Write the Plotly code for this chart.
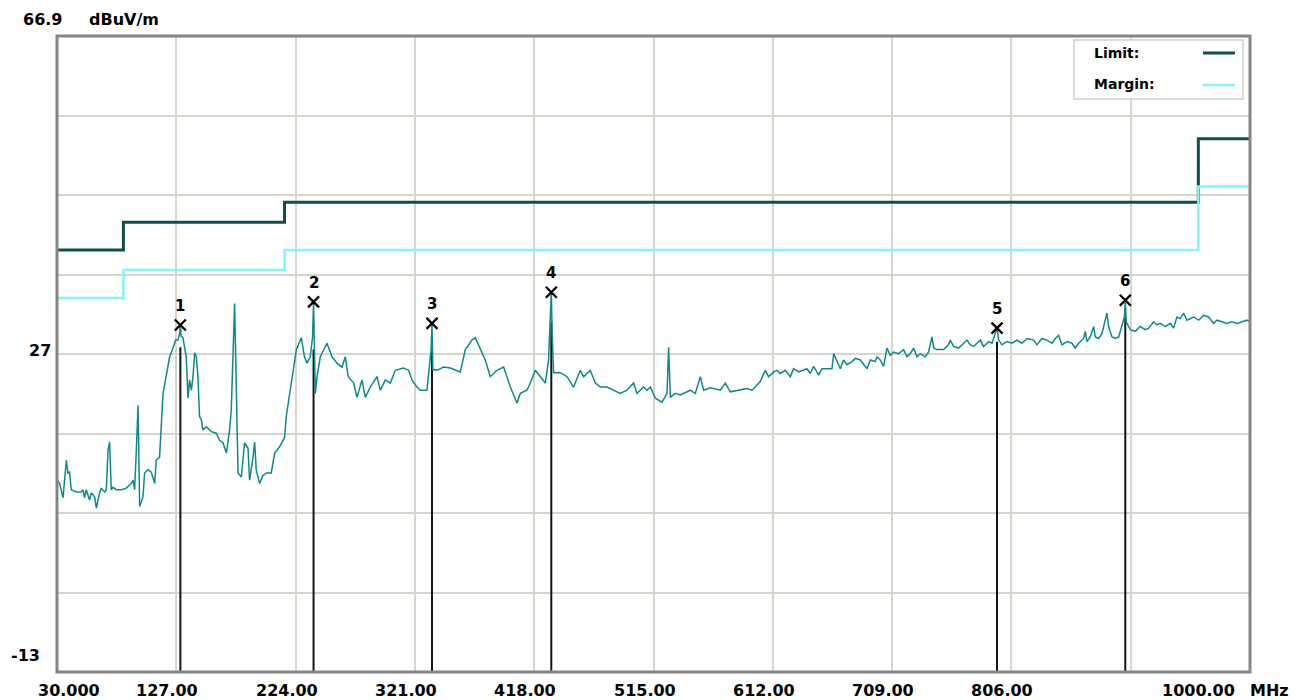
import numpy as np
import plotly.graph_objects as go

# ---- axes ----
Y_MIN, Y_MAX = -13.0, 66.9
x_ticks = [30, 127, 224, 321, 418, 515, 612, 709, 806, 903, 1000]
x_tick_labels = ["30.000", "127.00", "224.00", "321.00", "418.00", "515.00",
                 "612.00", "709.00", "806.00", "", "1000.00"]
y_label_values = [66.9, 27, -13]
y_label_texts = ["66.9", "27", "-13"]

# ---- limit / margin (step lines) ----
limit_freq = [30, 84, 215, 958, 1000]
limit_level = [40.0, 43.5, 46.0, 54.0, 54.0]
margin_freq = [30, 84, 215, 958, 1000]
margin_level = [34.0, 37.5, 40.0, 48.0, 48.0]

# ---- measured spectrum (MHz, dBuV/m) ----
trace_freq = [
    30.0, 32.1, 34.9, 37.6, 38.9, 40.2, 41.6, 45.7, 49.8, 51.1, 52.4, 53.8, 56.5, 57.9,
    60.6, 62.0, 64.6, 66.0, 68.7, 70.1, 71.5, 72.8, 74.1, 75.5, 78.2, 82.3, 86.3, 90.4,
    91.8, 93.1, 94.5, 95.9, 97.2, 99.9, 101.2, 104.0, 106.7, 109.4, 110.7, 113.4, 116.2,
    118.9, 121.6, 124.3, 126.4, 128.4, 129.7, 130.3, 130.9, 132.4, 135.1, 136.5, 137.8,
    139.2, 140.6, 141.9, 143.3, 144.6, 145.9, 147.3, 148.7, 151.4, 155.5, 159.5, 162.2,
    165.0, 167.7, 170.3, 171.7, 174.4, 175.8, 177.2, 179.9, 182.5, 185.3, 186.6, 189.4,
    190.7, 192.0, 194.7, 197.5, 200.2, 204.2, 207.0, 211.0, 215.1, 216.4, 219.1, 221.9,
    224.6, 228.6, 231.2,
    233.3, 235.9, 237.8, 238.6, 240.0, 241.4, 244.1, 249.5,
    253.6, 257.7, 261.7, 264.4, 266.8, 271.2, 273.9, 278.0, 280.7, 284.7, 290.2, 292.9,
    296.9, 301.0, 305.1, 311.8, 315.9, 318.6, 322.7, 325.4, 330.8, 334.2, 334.9, 335.6,
    339.0, 344.3, 349.8, 355.2, 357.9, 362.0, 367.4, 370.1, 374.2, 378.2, 382.3, 387.7,
    393.1, 398.6, 404.0, 406.7, 412.1, 414.8, 418.9, 422.9, 427.0, 429.7, 431.2, 431.9,
    432.6, 433.8, 439.2, 444.7, 450.0, 455.5, 458.2, 463.6, 467.7, 471.7, 477.2, 482.5,
    488.0, 493.4, 498.8, 501.6, 506.9, 509.7, 512.4, 516.5, 521.9, 526.0, 527.3, 528.7,
    532.7, 536.8, 544.9, 549.0, 553.1, 555.8, 561.2, 569.3, 573.4, 577.4,
    585.6, 591.0, 595.1, 599.1, 601.8, 605.9, 608.6, 612.7, 615.4, 618.1, 622.2, 626.2,
    628.9, 633.0, 637.1, 639.8, 642.5, 645.2, 649.3, 652.0, 656.0, 660.1, 661.5, 664.2,
    666.9, 669.6, 672.3, 676.4, 679.1, 683.1, 685.8, 688.6, 691.3, 695.3, 696.7, 699.4,
    702.1, 704.8, 707.5, 710.2, 714.3, 718.4, 721.1, 723.8, 726.5, 729.2, 731.9, 736.0,
    738.7, 741.4, 742.8, 745.5, 750.9, 754.9, 756.3, 759.0, 763.1, 767.2, 769.9, 772.6,
    775.3, 778.0, 780.7, 783.4, 787.5, 790.2, 792.9, 794.3, 795.6, 798.3, 802.4, 806.4,
    810.5, 814.6, 818.7, 824.1, 826.8, 830.8, 834.9, 839.0, 841.7, 844.4, 847.1, 851.2,
    855.2, 857.9, 860.7, 864.7, 866.1, 867.4, 870.1, 872.9, 874.2, 876.9, 879.6, 883.7,
    885.0, 887.8, 890.5, 893.2, 897.9, 898.6, 899.3, 902.7, 906.7, 910.8, 914.9, 917.6,
    921.6, 924.3, 927.1, 931.1, 935.2, 937.9, 940.6, 943.3, 946.0, 948.7, 954.2, 958.2,
    962.3, 966.3, 970.4, 973.1, 977.2, 981.3, 985.3, 989.4, 993.5, 997.5, 1000.0,
]
trace_level = [
    11.1, 10.7, 8.9, 13.6, 12.0, 12.1, 9.9, 9.6, 9.6, 9.9, 8.9, 9.9, 8.6, 9.5,
    9.0, 7.6, 9.5, 10.1, 9.6, 9.9, 14.9, 15.9, 9.9, 10.2, 9.9, 9.9, 10.1, 10.7,
    11.1, 9.9, 14.9, 20.5, 7.8, 9.0, 12.0, 12.4, 12.1, 10.7, 13.6, 14.0, 22.0,
    24.1, 26.6, 27.7, 28.7, 28.7, 29.5, 30.6, 29.2, 29.0, 26.6, 21.4, 23.7,
    22.4, 24.1, 27.1, 26.6, 24.1, 19.1, 18.7, 17.4, 17.8, 17.2, 17.0, 16.1,
    15.8, 14.5, 17.4, 19.9, 33.3, 22.4, 12.0, 11.5, 15.8, 15.1, 11.1, 14.0,
    15.9, 12.4, 10.7, 11.7, 12.0, 12.0, 14.5, 15.3, 16.5, 19.1, 22.0, 24.9,
    27.5, 29.0, 26.6,
    25.8, 26.6, 29.1, 33.5, 22.0, 24.1, 26.6, 28.3,
    26.6, 25.8, 25.3, 26.6, 24.1, 23.3, 21.5, 23.7, 21.5, 22.8, 24.1, 22.4,
    23.7, 23.3, 24.9, 25.2, 24.9, 23.7, 22.8, 22.4, 22.4, 27.5, 30.8, 25.0,
    24.9, 25.3, 25.2, 24.9, 24.7, 27.5, 28.7, 29.0, 27.5, 26.2, 24.1, 24.9,
    25.3, 22.8, 20.8, 22.0, 22.4, 23.3, 24.9, 24.1, 23.3, 26.2, 31.0, 34.7,
    29.5, 24.6, 24.6, 24.1, 22.8, 24.9, 24.1, 24.9, 23.3, 22.8, 22.8, 22.4,
    22.0, 22.4, 23.3, 22.0, 22.8, 22.4, 22.8, 21.4, 20.9, 22.0, 27.8, 21.5,
    22.0, 21.8, 22.4, 22.0, 24.1, 22.4, 22.7, 22.4, 23.3, 22.2,
    22.4, 22.6, 22.4, 23.1, 23.5, 24.9, 24.1, 24.7, 24.9, 24.5, 24.9, 24.1,
    25.1, 24.7, 24.9, 25.1, 24.5, 25.4, 24.3, 25.1, 25.1, 25.1, 27.0, 26.0,
    25.1, 26.2, 25.6, 26.0, 26.4, 26.2, 25.6, 25.1, 26.2, 26.0, 26.6, 26.2,
    25.4, 27.7, 26.8, 27.2, 27.0, 27.5, 26.6, 27.0, 27.7, 26.6, 27.0, 26.6,
    27.2, 29.1, 27.7, 27.5, 27.5, 28.1, 28.7, 27.9, 27.7, 28.3, 28.7, 28.1,
    27.9, 28.3, 28.7, 27.9, 28.5, 28.3, 29.5, 30.2, 28.7, 28.1, 28.5, 28.3,
    28.7, 28.3, 28.9, 28.7, 28.1, 28.9, 28.7, 28.3, 28.9, 29.3, 28.1, 28.5,
    28.3, 27.7, 28.3, 28.9, 29.8, 28.5, 29.1, 30.4, 29.1, 28.9, 29.5, 32.1,
    30.4, 29.1, 28.9, 29.1, 31.6, 33.7, 31.0, 30.0, 29.8, 30.4, 30.0, 30.2,
    31.0, 30.6, 30.8, 30.4, 30.8, 30.2, 31.6, 31.4, 32.1, 31.2, 31.6, 31.2,
    31.8, 31.6, 30.8, 31.2, 31.0, 30.8, 31.0, 30.8, 31.0, 31.2, 31.0,
]

# ---- peak markers ----
marker_id = ["1", "2", "3", "4", "5", "6"]
marker_freq = [130.3, 238.6, 334.9, 431.9, 794.3, 898.6]
marker_level = [30.6, 33.5, 30.8, 34.7, 30.2, 33.7]
marker_base = [27.8, 27.5, 27.5, 31.0, 28.5, 31.6]

# ---- page geometry (pixels) ----
W, H = 1303, 700
L, R, T, B = 57, 1250, 36, 672


def px(x):
    return (x - L) / (R - L)


def py(y):
    return (B - y) / (B - T)


FONT = "DejaVu Sans"
LIMIT_COLOR = "#0f4e4a"
MARGIN_COLOR = "#7ff8f8"
TRACE_COLOR = "#0c8a8a"
GRID_COLOR = "#d9d5cd"

fig = go.Figure()

fig.add_trace(go.Scatter(x=limit_freq, y=limit_level, mode="lines",
                         line=dict(color=LIMIT_COLOR, width=3, shape="hv"),
                         hoverinfo="skip"))
fig.add_trace(go.Scatter(x=margin_freq, y=margin_level, mode="lines",
                         line=dict(color=MARGIN_COLOR, width=2.5, shape="hv"),
                         hoverinfo="skip"))

# marker drop lines from the floor up to the trace
drop_x, drop_y = [], []
for f, b in zip(marker_freq, marker_base):
    drop_x += [f, f, None]
    drop_y += [Y_MIN, b, None]
fig.add_trace(go.Scatter(x=drop_x, y=drop_y, mode="lines",
                         line=dict(color="#151515", width=2), hoverinfo="skip"))

fig.add_trace(go.Scatter(x=trace_freq, y=trace_level, mode="lines",
                         line=dict(color=TRACE_COLOR, width=1.5), hoverinfo="skip"))

fig.add_trace(go.Scatter(x=marker_freq, y=marker_level, mode="markers",
                         marker=dict(symbol="x-thin", size=11,
                                     line=dict(color="black", width=2.3)),
                         hoverinfo="skip"))

annotations = []
num_font = dict(family=FONT, size=15, color="black", weight="bold")
for mid, f, v in zip(marker_id, marker_freq, marker_level):
    annotations.append(dict(x=f, y=v, xref="x", yref="y", text=mid, showarrow=False,
                            xanchor="center", yanchor="middle", yshift=19,
                            font=num_font))

# x tick labels
label_font = dict(family=FONT, size=16, color="black", weight="bold")
for i, (tv, tl) in enumerate(zip(x_ticks, x_tick_labels)):
    if not tl:
        continue
    shift = -9
    if i == 0:
        shift = 12
    elif i == len(x_ticks) - 1:
        shift = -52
    annotations.append(dict(x=tv, y=py(690), xref="x", yref="paper", text=tl,
                            showarrow=False, xanchor="center", yanchor="middle",
                            xshift=shift, font=label_font))
annotations.append(dict(x=px(1269), y=py(690), xref="paper", yref="paper", text="MHz",
                        showarrow=False, xanchor="center", yanchor="middle",
                        font=label_font))

# y labels
y_label_pos = {"66.9": (42, 19), "27": (40, 350), "-13": (25, 655)}
for t in y_label_texts:
    xx, yy = y_label_pos[t]
    annotations.append(dict(x=px(xx), y=py(yy), xref="paper", yref="paper", text=t,
                            showarrow=False, xanchor="center", yanchor="middle",
                            font=label_font))
annotations.append(dict(x=px(124), y=py(19), xref="paper", yref="paper", text="dBuV/m",
                        showarrow=False, xanchor="center", yanchor="middle",
                        font=label_font))

# legend box
legend_font = dict(family=FONT, size=14, color="black", weight="bold")
annotations.append(dict(x=px(1092), y=py(53), xref="paper", yref="paper", text="Limit:",
                        xanchor="left", yanchor="middle", showarrow=False,
                        font=legend_font))
annotations.append(dict(x=px(1092), y=py(84), xref="paper", yref="paper", text="Margin:",
                        xanchor="left", yanchor="middle", showarrow=False,
                        font=legend_font))

shapes = [
    dict(type="rect", xref="paper", yref="paper", x0=px(1074), x1=px(1243),
         y0=py(99), y1=py(40), line=dict(color="#d4d0c8", width=1.5),
         fillcolor="white", layer="above"),
    dict(type="line", xref="paper", yref="paper", x0=px(1203), x1=px(1235),
         y0=py(53), y1=py(53), line=dict(color=LIMIT_COLOR, width=3)),
    dict(type="line", xref="paper", yref="paper", x0=px(1203), x1=px(1235),
         y0=py(85), y1=py(85), line=dict(color=MARGIN_COLOR, width=2.5)),
    dict(type="rect", xref="paper", yref="paper", x0=0, x1=1, y0=0, y1=1,
         line=dict(color="#858585", width=3), layer="above"),
]

fig.update_layout(
    width=W, height=H,
    margin=dict(l=L, r=W - R, t=T, b=H - B, pad=0),
    paper_bgcolor="white", plot_bgcolor="white",
    showlegend=False, hovermode=False,
    annotations=annotations, shapes=shapes,
    xaxis=dict(range=[30, 1000], tickvals=x_ticks, showticklabels=False,
               showgrid=True, gridcolor=GRID_COLOR, gridwidth=2, zeroline=False,
               ticks="", showline=False, fixedrange=True),
    yaxis=dict(range=[Y_MIN, Y_MAX], tickvals=list(np.linspace(Y_MIN, Y_MAX, 9)),
               showticklabels=False, showgrid=True, gridcolor=GRID_COLOR, gridwidth=2,
               zeroline=False, ticks="", showline=False, fixedrange=True),
)

fig.write_html("out.html", config={"displayModeBar": False})
